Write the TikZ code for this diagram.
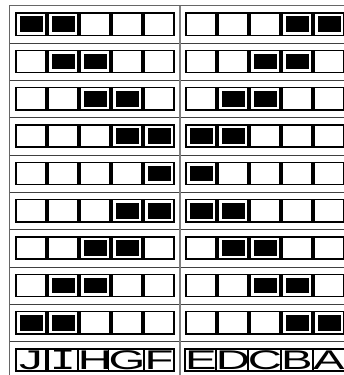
\documentclass[tikz,border=0pt]{standalone}
\usepackage{fontspec}
\newfontfamily\lcd[FakeStretch=1.75]{Liberation Sans}
\newfontfamily\lcdm[FakeStretch=1.6]{DejaVu Sans Mono}
\begin{document}
\begin{tikzpicture}[x=1pt,y=-1pt,
  cellbox/.style={draw=black,line width=1.5pt,fill=white,minimum width=29.6pt,minimum height=22.2pt,inner sep=0pt,outer sep=0pt},
  framel/.style={draw=black!60,line width=1pt},
  sepl/.style={draw=black!75,line width=1pt},
  midl/.style={draw=black!50,line width=2pt},
  lettr/.style={font=\lcd\fontsize{27}{27}\selectfont}]
\useasboundingbox (0,0) rectangle (344,375);
\begin{scope}
\clip (0,0) rectangle (344,375);
% frame
\draw[framel] (9.5,385) -- (9.5,5.7) -- (350.5,5.7) -- (350.5,385);
\foreach \i in {1,...,9}{
  \coordinate (sl\i) at (9.5,{5.7+37.33*\i});
  \coordinate (sr\i) at (350.5,{5.7+37.33*\i});
  \draw[sepl] (sl\i) -- (sr\i);
}
\coordinate (mtop) at (180,5.7);
\coordinate (mbot) at (180,385);
\draw[midl] (mtop) -- (mbot);
% pattern rows: list of (row, left on cells, right on cells)
\foreach \r/\L/\R in {0/{0,1}/{3,4},1/{1,2}/{2,3},2/{2,3}/{1,2},3/{3,4}/{0,1},4/{4}/{0},5/{3,4}/{0,1},6/{2,3}/{1,2},7/{1,2}/{2,3},8/{0,1}/{3,4}}{
  \foreach \j in {0,...,4}{
    \node[cellbox] (l\r\j) at ({31+32*\j},{5.7+37.33*\r+18.45}) {};
    \node[cellbox] (r\r\j) at ({201+32*\j},{5.7+37.33*\r+18.45}) {};
  }
  \foreach \j in \L{
    \fill ([shift={(3.3,3.3)}]l\r\j.north west) rectangle ([shift={(-3.3,-3.3)}]l\r\j.south east);
  }
  \foreach \j in \R{
    \fill ([shift={(3.3,3.3)}]r\r\j.north west) rectangle ([shift={(-3.3,-3.3)}]r\r\j.south east);
  }
}
% letters row
\foreach \t [count=\k from 0] in {J,{\lcdm I},H,G,F}{
  \node[cellbox,lettr] (lt\k) at ({31+32*\k},{5.7+37.33*9+18.45}) {\t};
}
\foreach \t [count=\k from 0] in {E,D,C,B,A}{
  \node[cellbox,lettr] (rt\k) at ({201+32*\k},{5.7+37.33*9+18.45}) {\t};
}
\end{scope}
\end{tikzpicture}
\end{document}
